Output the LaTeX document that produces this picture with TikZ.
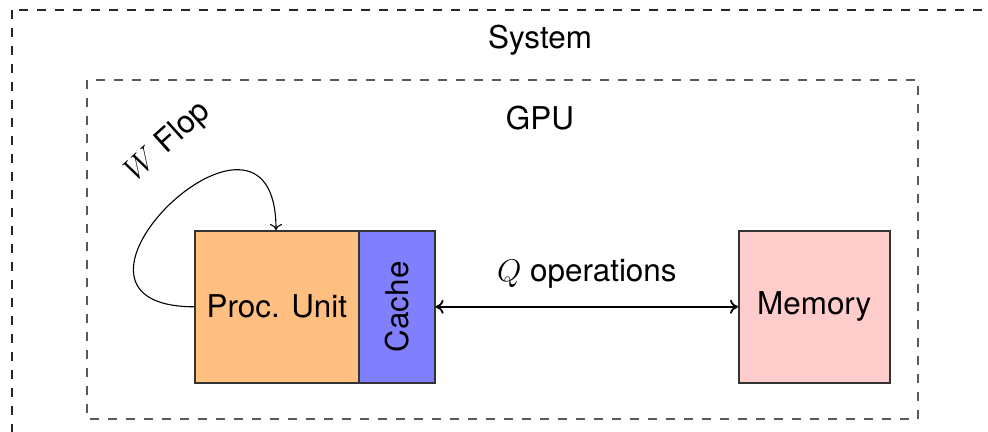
\RequirePackage{fix-cm}
\documentclass[tikz,border=0pt]{standalone}
\usepackage{fontspec}
\setmainfont{TeX Gyre Heros}
\usetikzlibrary{arrows.meta}
\definecolor{procfill}{HTML}{FFBF80}
\definecolor{cachefill}{HTML}{8080FF}
\definecolor{memfill}{HTML}{FFCCCC}
\tikzset{
  unitbox/.style={draw=black!80, line width=0.8pt, inner sep=0pt},
  frame/.style={line width=0.65pt, dash pattern=on 4.5pt off 4.5pt},
  lbl/.style={font=\fontsize{15.7}{19}\selectfont, inner sep=0pt},
}
\begin{document}
\begin{tikzpicture}[x=0.5pt, y=-0.5pt]
  \useasboundingbox (0,0) rectangle (988,432);
  \clip (0,0) rectangle (988,432);
  % enclosing frames
  \draw[frame, draw=black!85] (12,10) rectangle (1010,460);
  \draw[frame, draw=black!65] (87,80) rectangle (918,419);
  \node[lbl] (sys) at (540,40) {System};
  \node[lbl] (gpu) at (540,118) {GPU};
  % processing unit, cache and memory
  \node[unitbox, fill=procfill, minimum width=82pt, minimum height=76pt, anchor=north west] (pu) at (194,230) {};
  \node[lbl] (pulbl) at (pu.center) {Proc. Unit};
  \node[unitbox, fill=cachefill, minimum width=38pt, minimum height=76pt, anchor=north west] (cache) at (358,230) {};
  \node[lbl, rotate=90] (cachelbl) at (cache.center) {Cache};
  \node[unitbox, fill=memfill, minimum width=75.5pt, minimum height=76pt, anchor=north west] (mem) at (738,230) {};
  \node[lbl] (memlbl) at (mem.center) {Memory};
  % data transfers between cache and memory
  \draw[{To[length=4pt,width=7pt]}-{To[length=4pt,width=7pt]}, line width=0.9pt] (cache.east) -- (mem.west)
    node[lbl, midway, above=9pt] (qlbl) {$Q$ operations};
  % computation loop on the processing unit
  \coordinate (loopstart) at (pu.west);
  \coordinate (loopend) at ([xshift=41pt]pu.north west);
  \draw[-{To[length=3pt,width=6pt]}, line width=0.55pt] (loopstart) .. controls (20,306) and (276,60) .. (loopend);
  \node[lbl, rotate=42] (wlbl) at (168,142) {$W$ Flop};
\end{tikzpicture}
\end{document}
